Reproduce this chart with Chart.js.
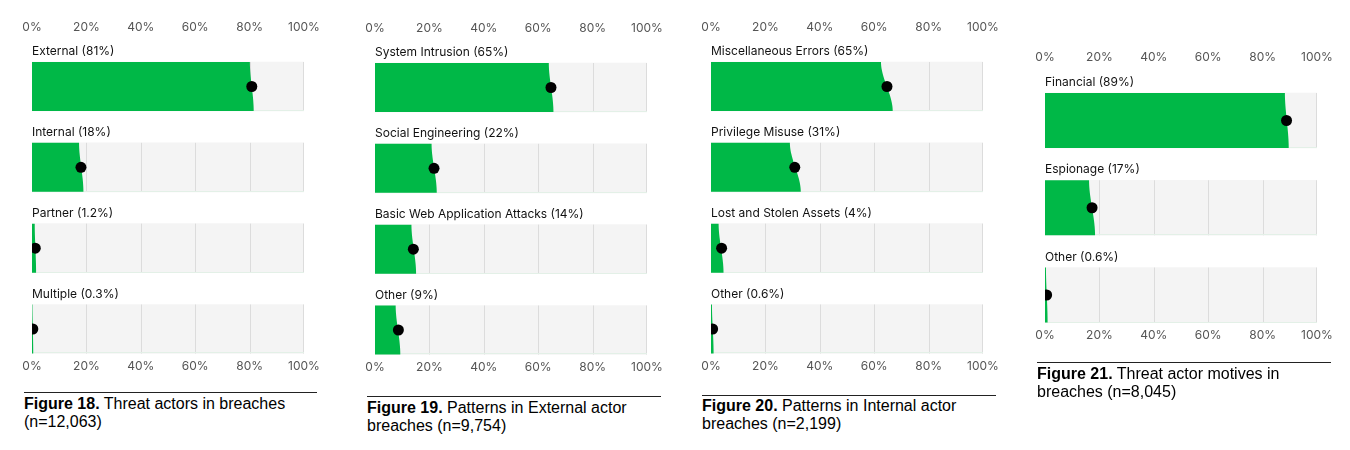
<!DOCTYPE html>
<html>
<head>
<meta charset="utf-8">
<script src="https://cdn.jsdelivr.net/npm/chart.js@4.4.1/dist/chart.umd.min.js"></script>
<style>
body { margin: 0; background: #fff; width: 1350px; height: 450px; overflow: hidden; position: relative; }
canvas { position: absolute; }
.cap { position: absolute; border-top: 1.5px solid #222; padding-top: 1.5px;
       font-family: 'Liberation Sans', Arial, sans-serif; font-size: 16px; line-height: 18px; color: #000; }
</style>
</head>
<body>
<canvas id="c18" width="336" height="379" style="left:0px;top:0px"></canvas>
<canvas id="c19" width="336" height="379" style="left:343px;top:1px"></canvas>
<canvas id="c20" width="336" height="379" style="left:679px;top:0px"></canvas>
<canvas id="c21" width="336" height="348" style="left:1013px;top:0px"></canvas>

<div class="cap" style="left:24px;top:392px;width:293px"><b>Figure 18.</b> Threat actors in breaches<br>(n=12,063)</div>
<div class="cap" style="left:367px;top:396px;width:294px"><b>Figure 19.</b> Patterns in External actor<br>breaches (n=9,754)</div>
<div class="cap" style="left:702px;top:394.5px;width:294px"><b>Figure 20.</b> Patterns in Internal actor<br>breaches (n=2,199)</div>
<div class="cap" style="left:1037px;top:362px;width:294px"><b>Figure 21.</b> Threat actor motives in<br>breaches (n=8,045)</div>

<script>
// tick labels shared by every panel
var tickValues = [0, 20, 40, 60, 80, 100];

// Figure 18 - threat actors
var actorLabels = ['External (81%)', 'Internal (18%)', 'Partner (1.2%)', 'Multiple (0.3%)'];
var actorValues = [80.8, 18.0, 1.2, 0.3];
var actorLow = [80.1, 17.3, 1.0, 0.15];
var actorHigh = [81.5, 18.9, 1.5, 0.45];

// Figure 19 - patterns, external actor
var extLabels = ['System Intrusion (65%)', 'Social Engineering (22%)', 'Basic Web Application Attacks (14%)', 'Other (9%)'];
var extValues = [64.7, 21.7, 14.1, 8.6];
var extLow = [63.9, 20.8, 13.4, 7.6];
var extHigh = [65.6, 22.7, 15.1, 9.3];

// Figure 20 - patterns, internal actor
var intLabels = ['Miscellaneous Errors (65%)', 'Privilege Misuse (31%)', 'Lost and Stolen Assets (4%)', 'Other (0.6%)'];
var intValues = [64.7, 30.8, 3.9, 0.6];
var intLow = [62.5, 29.0, 2.8, 0.35];
var intHigh = [66.8, 33.0, 4.6, 0.95];

// Figure 21 - motives
var motiveLabels = ['Financial (89%)', 'Espionage (17%)', 'Other (0.6%)'];
var motiveValues = [88.8, 17.3, 0.6];
var motiveLow = [88.2, 16.2, 0.35];
var motiveHigh = [89.6, 18.4, 0.95];

var GREEN = '#00b847';

// draws grid lines inside each grey band, the green slab and the row label
var slabPlugin = {
    id: 'slab',
    afterDatasetDraw: function(chart, args) {
        if (args.index !== 0) return;
        var p = chart.options.plugins.slab;
        var xs = chart.scales.x;
        var ctx = chart.ctx;
        var bars = args.meta.data;
        ctx.save();
        for (var i = 0; i < bars.length; i++) {
            var b = bars[i];
            var top = b.y - b.height / 2, bot = b.y + b.height / 2;
            var x0 = xs.getPixelForValue(0);
            var right = xs.getPixelForValue(100);

            ctx.strokeStyle = '#dcdcdc';
            ctx.lineWidth = 1;
            for (var g = 1; g < tickValues.length; g++) {
                var gx = Math.min(Math.round(xs.getPixelForValue(tickValues[g])) + 0.5, Math.round(right) - 0.5);
                ctx.beginPath();
                ctx.moveTo(gx, top);
                ctx.lineTo(gx, bot);
                ctx.stroke();
            }
            // faint bottom edge
            ctx.strokeStyle = '#e3f0e7';
            ctx.beginPath();
            ctx.moveTo(x0, Math.round(bot) - 0.5);
            ctx.lineTo(right, Math.round(bot) - 0.5);
            ctx.stroke();

            var lo = xs.getPixelForValue(p.low[i]);
            var hi = xs.getPixelForValue(p.high[i]);
            ctx.fillStyle = GREEN;
            ctx.beginPath();
            ctx.moveTo(x0, top);
            for (var k = 0; k <= 40; k++) {
                var t = k / 40;
                var s = t * t * (3 - 2 * t);
                ctx.lineTo(lo + (hi - lo) * s, top + t * (bot - top));
            }
            ctx.lineTo(x0, bot);
            ctx.closePath();
            ctx.fill();

            ctx.fillStyle = '#111';
            ctx.font = '12px Inter';
            ctx.textAlign = 'left';
            ctx.textBaseline = 'middle';
            ctx.fillText(p.labels[i], x0, top - 10.5);
        }
        ctx.restore();
    }
};

function xAxis(pos) {
    return {
        type: 'linear',
        position: pos,
        offset: false,
        min: tickValues[0],
        max: tickValues[tickValues.length - 1],
        grid: { display: false, drawTicks: false, offset: false },
        border: { display: false },
        ticks: {
            stepSize: 20,
            padding: 4,
            color: '#555',
            font: { family: 'Inter', size: 12 },
            callback: function(v) { return v + '%'; }
        }
    };
}

function drawPanel(id, labels, values, low, high, lay) {
    // y range picked so rows land where the reference puts them
    var yMin = -(lay.firstCenter - lay.areaTop) / lay.spacing;
    var yMax = yMin + (lay.areaBottom - lay.areaTop) / lay.spacing;

    var track = [], dots = [];
    for (var i = 0; i < labels.length; i++) {
        track.push({ x: tickValues[tickValues.length - 1], y: i });
        dots.push({ x: values[i], y: i });
    }

    new Chart(document.getElementById(id), {
        type: 'bar',
        data: {
            datasets: [{
                type: 'bar',
                indexAxis: 'y',
                data: track,
                backgroundColor: '#f4f4f4',
                borderWidth: 0,
                barThickness: lay.barH,
                order: 2
            }, {
                type: 'scatter',
                data: dots,
                pointRadius: 5.5,
                pointBackgroundColor: '#000',
                pointBorderWidth: 0,
                order: 1
            }]
        },
        options: {
            responsive: false,
            animation: false,
            events: [],
            layout: { padding: { top: lay.padTop, bottom: 1, left: 32, right: 32 } },
            scales: {
                x: xAxis('bottom'),
                x2: xAxis('top'),
                y: { type: 'linear', reverse: true, offset: false, bounds: 'data',
                     min: yMin, max: yMax, display: false, grid: { offset: false } }
            },
            plugins: {
                legend: { display: false },
                tooltip: { enabled: false },
                slab: { labels: labels, low: low, high: high }
            }
        },
        plugins: [slabPlugin]
    });
}

function go() {
    var tall = { padTop: 16, areaTop: 38.4, areaBottom: 355.6, firstCenter: 86.5, spacing: 80.83, barH: 49 };
    var short = { padTop: 46, areaTop: 68.4, areaBottom: 324.6, firstCenter: 120.5, spacing: 87.25, barH: 55 };
    drawPanel('c18', actorLabels, actorValues, actorLow, actorHigh, tall);
    drawPanel('c19', extLabels, extValues, extLow, extHigh, tall);
    drawPanel('c20', intLabels, intValues, intLow, intHigh, tall);
    drawPanel('c21', motiveLabels, motiveValues, motiveLow, motiveHigh, short);
}

if (document.fonts && document.fonts.load) {
    document.fonts.load('12px Inter').then(go, go);
} else {
    go();
}
</script>
</body>
</html>
